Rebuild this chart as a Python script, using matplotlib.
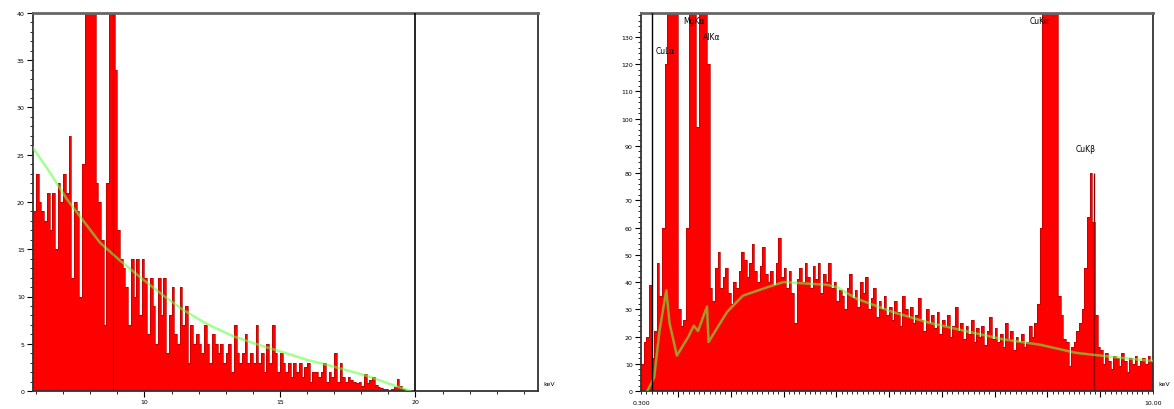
import numpy as np
import matplotlib
matplotlib.use("Agg")
import matplotlib.pyplot as plt
from matplotlib.ticker import MultipleLocator, FixedLocator, NullFormatter

# ── left spectrum: 0.1 keV bins starting at 5.9 keV ──
LEFT_START = 5.9
LEFT_WIDTH = 0.1
LEFT_COUNTS = [
    19, 23, 20, 19, 18, 21, 17, 21, 15, 22,      # 5.9 - 6.8
    20, 23, 21, 27, 12, 20, 19, 10, 24, 60,      # 6.9 - 7.8
    62, 55, 45, 22, 20, 16, 7, 22, 48, 55,       # 7.9 - 8.8
    34, 17, 14, 13, 11, 7, 14, 10, 14, 8,        # 8.9 - 9.8
    14, 12, 6, 12, 9, 5, 12, 8, 12, 4,           # 9.9 - 10.8
    8, 11, 6, 5, 11, 7, 9, 3, 7, 5,              # 10.9 - 11.8
    6, 5, 4, 7, 5, 3, 6, 5, 4, 5,                # 11.9 - 12.8
    3, 4, 5, 2, 7, 4, 3, 4, 6, 3,                # 12.9 - 13.8
    4, 3, 7, 3, 4, 2, 5, 3, 7, 4,                # 13.9 - 14.8
    2, 4, 3, 2, 3, 1.5, 3, 2, 3, 1.5,            # 14.9 - 15.8
    2.5, 3, 1, 2, 2, 1.5, 2, 3, 1, 2,            # 15.9 - 16.8
    1.5, 4, 1, 3, 1.5, 1, 1.5, 1.2, 1, 0.8,      # 16.9 - 17.8
    1, 0.5, 1.8, 0.8, 1.2, 1.5, 0.6, 0.4, 0.3, 0.2,  # 17.9 - 18.8
    0.2, 0.1, 0.2, 0.4, 1.3, 0.5, 0.2, 0.1, 0, 0,    # 18.9 - 19.8
]
LEFT_BG_E = [5.85, 6.52, 7.14, 7.75, 8.36, 9.1, 9.95, 10.7, 11.42, 12.3,
             13.27, 14.2, 15.11, 16.0, 16.96, 18.21, 19.0, 19.8]
LEFT_BG_C = [25.9, 23.1, 20.3, 18.0, 15.7, 13.8, 11.8, 10.1, 8.6, 7.1,
             5.8, 4.9, 4.1, 3.3, 2.6, 1.6, 0.8, 0.0]
LEFT_YTICKS = [0, 5, 10, 15, 20, 25, 30, 35, 40]
LEFT_XTICKS = [10, 15, 20]

# ── right spectrum: 0.05 keV bins starting at 0.3 keV ──
RIGHT_START = 0.3
RIGHT_WIDTH = 0.05
RIGHT_COUNTS = [
    10, 18, 20, 39, 12, 22, 47, 35, 60, 120, 170, 175, 170, 150,          # 0.30 - 0.95
    30, 24, 26, 60, 160, 170, 160, 97, 160, 170, 165, 120,                # 1.00 - 1.55
    38, 33, 45, 51, 38, 42, 45, 36,                                       # 1.60 - 1.95
    32, 40, 38, 44, 51, 48, 42, 47, 54, 44, 40, 46, 53, 43, 40, 44, 39, 47, 56, 42,  # 2.0 - 2.95
    45, 38, 44, 36, 25, 41, 45, 40, 47, 42, 38, 46, 41, 47, 36, 43, 40, 47, 38, 40,  # 3.0 - 3.95
    33, 37, 35, 30, 38, 43, 34, 37, 31, 40, 36, 42, 30, 34, 38, 27, 33, 30, 35, 28,  # 4.0 - 4.95
    31, 26, 33, 29, 24, 35, 30, 27, 31, 25, 28, 34, 26, 22, 30, 25, 28, 23, 29, 21,  # 5.0 - 5.95
    26, 24, 28, 20, 24, 31, 22, 25, 19, 24, 21, 26, 18, 23, 20, 24, 17, 22, 27, 19,  # 6.0 - 6.95
    23, 18, 21, 16, 25, 19, 22, 15, 20, 18, 21, 16, 18, 24, 20, 25, 32, 60, 165, 175,  # 7.0 - 7.95
    175, 170, 165, 150, 35, 28, 19, 18, 9, 16, 18, 22, 25, 30, 45, 64, 80, 62, 28, 16,  # 8.0 - 8.95
    15, 10, 14, 11, 8, 13, 12, 9, 14, 11, 7, 12, 10, 13, 9, 11, 12, 10, 13, 11,      # 9.0 - 9.95
]
RIGHT_BG_E = [0.42, 0.55, 0.65, 0.78, 0.84, 0.98, 1.2, 1.3, 1.38, 1.55, 1.58,
              1.93, 2.23, 2.68, 3.0, 3.4, 3.82, 4.03, 4.37, 5.07, 5.77, 6.45,
              7.15, 7.86, 8.54, 9.24, 10.0]
RIGHT_BG_C = [0, 5, 22, 37, 25, 13, 20, 24, 22, 31, 18,
              29, 35, 38, 40, 39.5, 39, 38, 34, 29, 25, 22,
              19, 17, 14, 12.5, 11]
RIGHT_YTICKS = [0, 10, 20, 30, 40, 50, 60, 70, 80, 90, 100, 110, 120, 130]
RIGHT_XMAJOR = [1, 2, 3, 4, 5, 6, 7, 8, 9]
RIGHT_XEND_LABELS = ["0.300", "10.00"]

PEAK_LABELS = ["CuLα", "MgKα", "AlKα", "CuKα", "CuKβ"]
PEAK_LABEL_E = [0.58, 1.10, 1.47, 7.67, 8.54]
PEAK_LABEL_Y = [125, 136, 130, 136, 89]

RED = "#ff0000"
EDGE = "#b00000"
BG_GREEN = "#66ff44"


def draw_spectrum(ax, start, width, counts, bg_e, bg_c):
    edges = start + width * np.arange(len(counts) + 1)
    ax.stairs(counts, edges, fill=True, color=RED, zorder=1)
    ax.stairs(counts, edges, color=EDGE, linewidth=0.5, zorder=2)
    ax.plot(bg_e, bg_c, color=BG_GREEN, alpha=0.6, linewidth=1.8, zorder=3)


def style_axes(ax):
    for s in ax.spines.values():
        s.set_color("#333333")
        s.set_linewidth(1.3)
    ax.spines["top"].set_color("#666666")
    ax.spines["top"].set_linewidth(2)
    ax.tick_params(which="major", direction="out", length=4, width=0.8,
                   labelsize=4.5, colors="black", pad=2)
    ax.tick_params(which="minor", direction="out", length=2, width=0.6)


fig = plt.figure(figsize=(11.74, 4.10), dpi=100)

# left panel
ax1 = fig.add_axes([33 / 1174, 18 / 410, 505 / 1174, 378 / 410])
draw_spectrum(ax1, LEFT_START, LEFT_WIDTH, LEFT_COUNTS, LEFT_BG_E, LEFT_BG_C)
ax1.axvline(20, color="black", linewidth=1.2, zorder=4)
ax1.axvline(8.85, color="#8b0000", linewidth=0.8, zorder=2)
ax1.set_xlim(5.89, 24.52)
ax1.set_ylim(0, 40)
ax1.set_yticks(LEFT_YTICKS)
ax1.yaxis.set_minor_locator(MultipleLocator(1))
ax1.set_xticks(LEFT_XTICKS)
ax1.xaxis.set_minor_locator(MultipleLocator(1))
style_axes(ax1)
ax1.text(1.01, 0.02, "keV", transform=ax1.transAxes, fontsize=4.5,
         ha="left", va="center")

# right panel
ax2 = fig.add_axes([641 / 1174, 18 / 410, 512 / 1174, 378 / 410])
draw_spectrum(ax2, RIGHT_START, RIGHT_WIDTH, RIGHT_COUNTS, RIGHT_BG_E, RIGHT_BG_C)
ax2.axvline(0.51, color="black", linewidth=1.0, zorder=4)
ax2.vlines(8.88, 0, 80, color="#8b0000", linewidth=1.0, zorder=2)
ax2.set_xlim(0.3, 10.0)
ax2.set_ylim(0, 138.8)
ax2.set_yticks(RIGHT_YTICKS)
ax2.yaxis.set_minor_locator(MultipleLocator(2))
ax2.xaxis.set_major_locator(FixedLocator(RIGHT_XMAJOR))
ax2.xaxis.set_major_formatter(NullFormatter())
ax2.xaxis.set_minor_locator(MultipleLocator(0.1))
style_axes(ax2)
ax2.text(0.0, -0.03, RIGHT_XEND_LABELS[0], transform=ax2.transAxes,
         fontsize=4.5, ha="center", va="center")
ax2.text(1.0, -0.03, RIGHT_XEND_LABELS[1], transform=ax2.transAxes,
         fontsize=4.5, ha="center", va="center")
ax2.text(1.01, 0.02, "keV", transform=ax2.transAxes, fontsize=4.5,
         ha="left", va="center")
for lab, e, y in zip(PEAK_LABELS, PEAK_LABEL_E, PEAK_LABEL_Y):
    ax2.text(e, y, lab, fontsize=5.5, ha="left", va="center", zorder=5)

fig.savefig("out.png", dpi=100)
